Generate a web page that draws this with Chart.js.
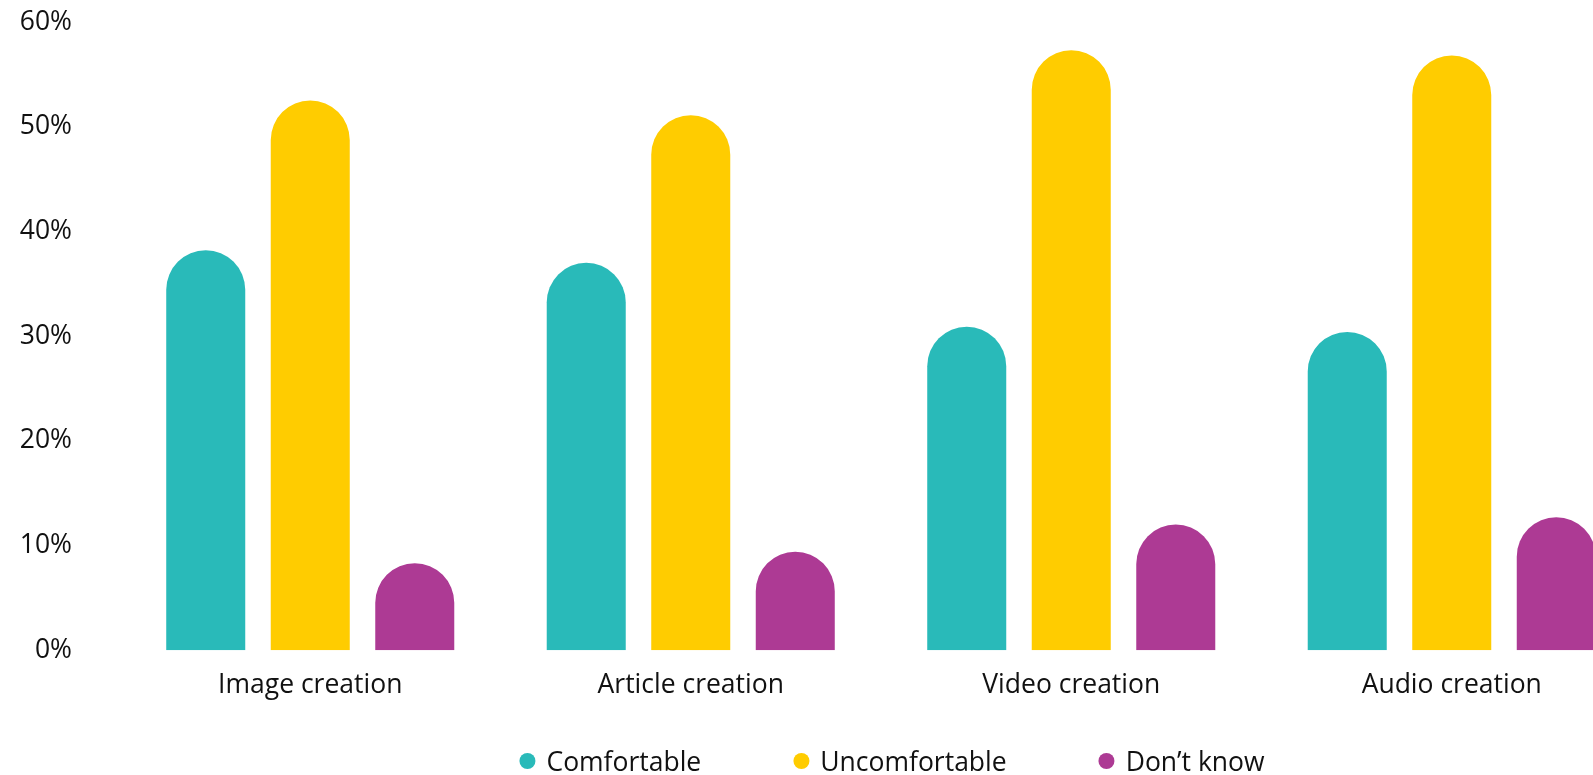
<!DOCTYPE html>
<html>
<head>
<meta charset="utf-8">
<title>Comfort with AI content creation</title>
<script src="https://cdn.jsdelivr.net/npm/chart.js@4/dist/chart.umd.min.js"></script>
<style>
  html, body { margin: 0; padding: 0; background: #fff; overflow: hidden; }
  #wrap { position: relative; width: 1680px; height: 775px; }
  #legend {
    position: absolute;
    top: 745px;
    left: 892px;
    transform: translateX(-50%);
    margin: 0;
    padding: 0;
    list-style: none;
    display: flex;
    gap: 92px;
    font-family: 'Open Sans', sans-serif;
    font-size: 26.5px;
    color: #111;
    white-space: nowrap;
  }
  #legend li { display: flex; align-items: center; line-height: 32px; }
  #legend .dot {
    display: inline-block;
    width: 16px;
    height: 16px;
    border-radius: 50%;
    margin-right: 11px;
  }
</style>
</head>
<body>
<div id="wrap">
  <canvas id="chart"></canvas>
  <ul id="legend"></ul>
</div>
<script>
(function(Chart) {
  'use strict';

  var categories    = ['Image creation', 'Article creation', 'Video creation', 'Audio creation'];
  var seriesNames   = ['Comfortable', 'Uncomfortable', 'Don\u2019t know'];
  var comfortable   = [38.2, 37.0, 30.9, 30.4];
  var uncomfortable = [52.5, 51.1, 57.3, 56.8];
  var dontKnow      = [8.3, 9.4, 12.0, 12.7];
  var yTicks        = [0, 10, 20, 30, 40, 50, 60];

  var colors = ['#29bab9', '#ffcc00', '#ad3a94'];
  var font   = { family: "'Open Sans', sans-serif", size: 26.5 };

  function makeDataset(label, values, color) {
    return {
      label: label,
      data: values,
      backgroundColor: color,
      borderWidth: 0,
      borderRadius: 100, // clamped to half the bar width -> round caps
      categoryPercentage: 0.824,
      barPercentage: 0.756
    };
  }

  var chart = new Chart(document.getElementById('chart'), {
    type: 'bar',
    data: {
      labels: categories,
      datasets: [
        makeDataset(seriesNames[0], comfortable, colors[0]),
        makeDataset(seriesNames[1], uncomfortable, colors[1]),
        makeDataset(seriesNames[2], dontKnow, colors[2])
      ]
    },
    options: {
      responsive: true,
      maintainAspectRatio: false,
      animation: false,
      layout: { padding: { top: 22, right: 38, bottom: 55, left: 0 } },
      plugins: {
        legend: { display: false },
        tooltip: { enabled: false }
      },
      scales: {
        x: {
          grid: { display: false, drawTicks: false },
          border: { display: false },
          ticks: { color: '#111', font: font, padding: 19 }
        },
        y: {
          min: yTicks[0],
          max: yTicks[yTicks.length - 1],
          afterFit: function(scale) {
            // fixed gutter for the labels; the big tick padding
            // shouldn't push the plot down from the top
            scale.width = 120;
            scale.paddingTop = 0;
            scale.paddingBottom = 0;
          },
          afterBuildTicks: function(scale) {
            scale.ticks = yTicks.map(function(v) { return { value: v }; });
          },
          grid: { display: false, drawTicks: false },
          border: { display: false },
          ticks: {
            color: '#111',
            font: font,
            padding: 48,
            callback: function(v) { return v + '%'; }
          }
        }
      }
    }
  });

  // legend lives outside the canvas so the item spacing can be set freely
  var legend = document.getElementById('legend');
  chart.data.datasets.forEach(function(ds) {
    var li = document.createElement('li');
    var dot = document.createElement('span');
    dot.className = 'dot';
    dot.style.background = ds.backgroundColor;
    li.appendChild(dot);
    li.appendChild(document.createTextNode(ds.label));
    legend.appendChild(li);
  });

}(Chart));
</script>
</body>
</html>
